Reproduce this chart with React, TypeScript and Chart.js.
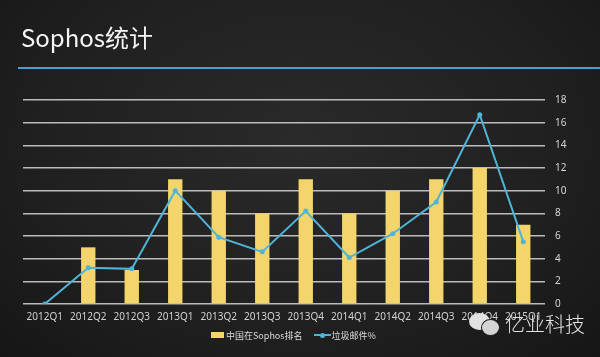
import React, { useEffect, useRef } from "react";
import { Chart, registerables } from "chart.js";

Chart.register(...registerables);

const categories = ["2012Q1", "2012Q2", "2012Q3", "2013Q1", "2013Q2", "2013Q3", "2013Q4", "2014Q1", "2014Q2", "2014Q3", "2014Q4", "2015Q1"];
const rankValues = [0, 5, 3, 11, 10, 8, 11, 8, 10, 11, 12, 7];
const spamValues = [0, 3.2, 3.1, 10, 5.9, 4.6, 8.2, 4.1, 6.2, 9.0, 16.7, 5.5];
const yTicks = [0, 2, 4, 6, 8, 10, 12, 14, 16, 18];
const rankLabel = "中国在Sophos排名";
const spamLabel = "垃圾邮件%";
const titleText = "Sophos统计";
const watermarkText = "亿业科技";

const YELLOW = "#f3d56c";
const BLUE = "#4fb4d8";
const FONT = "'Noto Sans CJK SC', 'Noto Sans', sans-serif";
const TICK_FONT = "'Noto Sans', 'Noto Sans CJK SC', sans-serif";

export default function App() {
  const ref = useRef<HTMLCanvasElement>(null);

  useEffect(() => {
    if (!ref.current) return;
    const chart = new Chart(ref.current, {
      type: "bar",
      data: {
        labels: categories,
        datasets: [
          {
            type: "line",
            label: spamLabel,
            data: spamValues,
            borderColor: BLUE,
            backgroundColor: BLUE,
            borderWidth: 2,
            pointRadius: 2.5,
            pointBackgroundColor: BLUE,
            pointBorderWidth: 0,
            tension: 0,
            order: 0,
          },
          {
            type: "bar",
            label: rankLabel,
            data: rankValues,
            backgroundColor: YELLOW,
            barPercentage: 0.33,
            categoryPercentage: 1,
            order: 1,
          },
        ],
      },
      options: {
        animation: false,
        responsive: false,
        maintainAspectRatio: false,
        layout: { padding: { left: 23, right: 0, top: 100, bottom: 31 } },
        scales: {
          x: {
            grid: { display: false, drawTicks: false },
            border: { display: false },
            ticks: { color: "#d2d2d2", font: { family: TICK_FONT, size: 10 }, padding: 7, maxRotation: 0, autoSkip: false },
            afterFit: (s: any) => { s.height = 22; },
          },
          y: {
            position: "right",
            min: 0,
            max: 18,
            afterBuildTicks: (s: any) => { s.ticks = yTicks.map((v) => ({ value: v })); },
            grid: { color: "rgba(215,215,215,0.85)", lineWidth: 1.5, drawTicks: false },
            border: { display: false },
            ticks: { color: "#d6d6d6", font: { family: TICK_FONT, size: 10 }, padding: 10 },
            afterFit: (s: any) => { s.width = 55; },
          },
        },
        plugins: {
          title: { display: false },
          tooltip: { enabled: false },
          legend: { display: false },
        },
      },
    });
    return () => chart.destroy();
  }, []);

  return (
    <div
      style={{
        position: "fixed",
        left: 0,
        top: 0,
        width: 600,
        height: 357,
        overflow: "hidden",
        background: "radial-gradient(ellipse at 50% 40%, #2a2a2a 0%, #202020 60%, #161616 100%)",
      }}
    >
      <div
        style={{
          position: "absolute",
          left: 21,
          top: 20,
          fontFamily: FONT,
          fontSize: 24,
          color: "#f4f4f4",
          lineHeight: "34px",
          whiteSpace: "nowrap",
        }}
      >
        {titleText}
      </div>
      <div style={{ position: "absolute", left: 18, top: 67, width: 582, height: 2, background: "#4a9fd2" }} />
      <canvas ref={ref} width={600} height={357} style={{ position: "absolute", left: 0, top: 0, width: 600, height: 357 }} />
      <div
        style={{
          position: "absolute",
          left: 211,
          top: 327,
          height: 16,
          display: "flex",
          alignItems: "center",
          fontFamily: FONT,
          fontSize: 9,
          color: "#dcdcdc",
          whiteSpace: "nowrap",
        }}
      >
        <span style={{ display: "inline-block", width: 13, height: 6, background: YELLOW, marginRight: 2 }} />
        <span>{rankLabel}</span>
        <span style={{ position: "relative", display: "inline-block", width: 17, height: 6, marginLeft: 11, marginRight: 1 }}>
          <span style={{ position: "absolute", left: 0, top: 2, width: 17, height: 2, background: BLUE }} />
          <span style={{ position: "absolute", left: 6, top: 0.5, width: 5, height: 5, borderRadius: "50%", background: BLUE }} />
        </span>
        <span>{spamLabel}</span>
      </div>
      <div style={{ position: "absolute", left: 469, top: 313, width: 21, height: 17, borderRadius: "50%", background: "#e2e2e2" }} />
      <div style={{ position: "absolute", left: 481, top: 319, width: 17, height: 15, borderRadius: "50%", background: "#d4d4d4", border: "1px solid #1c1c1c" }} />
      <div
        style={{
          position: "absolute",
          left: 505,
          top: 310,
          fontFamily: FONT,
          fontSize: 20,
          fontWeight: 300,
          color: "#e4e4e4",
          lineHeight: "28px",
          whiteSpace: "nowrap",
        }}
      >
        {watermarkText}
      </div>
    </div>
  );
}
